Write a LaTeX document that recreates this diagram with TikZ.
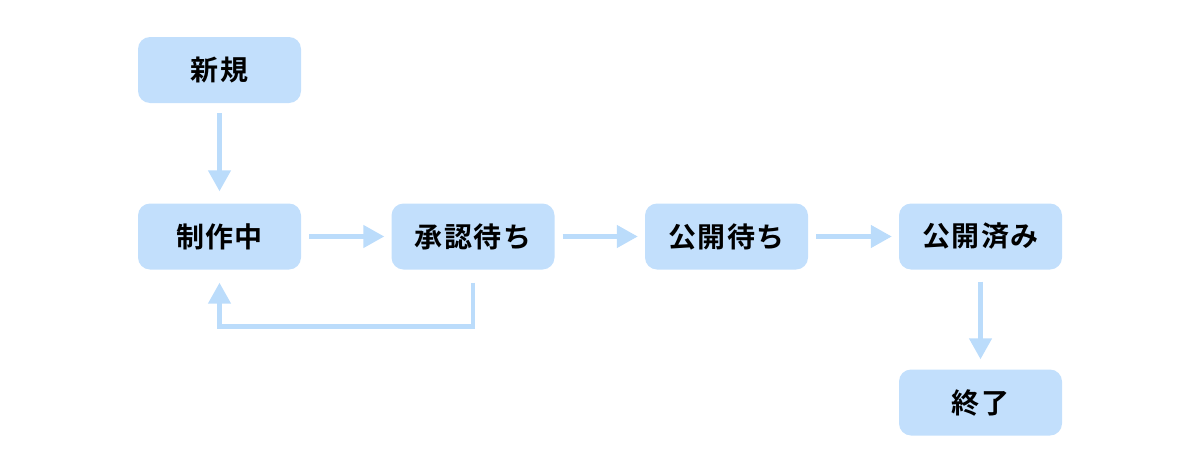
\documentclass[tikz,border=0pt]{standalone}
\usepackage{fontspec}
\newfontfamily\cjk{Noto Sans CJK JP}[BoldFont={* Bold}, LetterSpace=5]
\usetikzlibrary{arrows.meta}
\definecolor{boxfill}{RGB}{194,223,252}
\definecolor{arrowc}{RGB}{187,220,251}
\tikzset{
  state/.style={draw=none, fill=boxfill, rounded corners=12pt, minimum width=163pt, minimum height=66pt, inner sep=0pt, font=\cjk\bfseries\fontsize{28pt}{32pt}\selectfont, text=black},
  conn/.style={draw=arrowc, line width=4.5pt, -{Triangle[width=22pt,length=21pt]}},
}
\begin{document}
\begin{tikzpicture}[x=1pt,y=-1pt]
\useasboundingbox (0,0) rectangle (1200,466);
\node[state] (n1) at (219.5,70) {新規};
\node[state] (n2) at (219.5,236.5) {制作中};
\node[state] (n3) at (473,236.5) {承認待ち};
\node[state] (n4) at (726.5,236.5) {公開待ち};
\node[state] (n5) at (980.5,236.5) {公開済み};
\node[state] (n6) at (980.5,402.5) {終了};
\draw[conn, shorten <=10pt, shorten >=12pt] (n1.south) -- (n2.north);
\draw[conn, shorten <=8pt, shorten >=7pt] (n2.east) -- (n3.west);
\draw[conn, shorten <=8pt, shorten >=7pt] (n3.east) -- (n4.west);
\draw[conn, shorten <=8pt, shorten >=7pt] (n4.east) -- (n5.west);
\draw[conn, shorten <=12pt, shorten >=10pt] (n5.south) -- (n6.north);
\draw[conn, shorten <=13pt, shorten >=13pt] (n3.south) -- ++(0,57) -| (n2.south);
\end{tikzpicture}
\end{document}
